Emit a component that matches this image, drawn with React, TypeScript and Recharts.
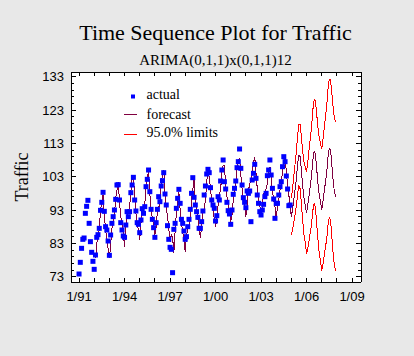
import { ComposedChart, Line, XAxis, YAxis, Legend } from 'recharts'

// monthly traffic, Jan 1991 – Dec 2004
const actual = [
  73.8, 77.3, 81.5, 84.2, 84.6, 92.0, 94.1, 95.9, 89.0, 83.5, 80.3, 77.6,
  75.2, 79.5, 84.8, 85.6, 87.5, 92.9, 95.3, 98.3, 92.6, 88.0, 87.0, 83.7,
  79.4, 85.5, 89.0, 91.0, 93.0, 96.2, 100.5, 100.6, 96.0, 89.2, 87.0, 85.2,
  84.8, 88.5, 92.5, 91.0, 92.5, 98.2, 100.5, 102.8, 96.0, 92.7, 89.2, 88.7,
  86.2, 90.0, 93.4, 92.0, 94.0, 100.0, 102.2, 105.0, 98.5, 93.2, 90.2, 87.7,
  84.8, 89.2, 93.2, 97.0, 95.5, 100.2, 101.8, 104.2, 97.8, 94.5, 88.3, 84.2,
  81.8, 81.2, 74.2, 87.2, 89.0, 93.5, 96.5, 99.2, 95.0, 90.2, 89.0, 86.7,
  84.2, 85.0, 88.0, 90.2, 93.2, 98.0, 102.7, 96.8, 94.5, 92.5, 90.8, 87.5,
  87.5, 89.5, 92.7, 97.5, 100.2, 103.8, 105.2, 104.2, 99.7, 96.0, 94.5, 93.5,
  89.7, 91.3, 97.0, 96.0, 101.7, 105.0, 108.0, 101.5, 99.3, 95.3, 92.8, 91.8,
  88.7, 93.0, 97.7, 99.5, 101.7, 105.7, 107.5, 111.3, 105.5, 100.5, 96.7, 95.3,
  93.7, 98.7, 98.0, 98.7, 89.5, 102.0, 104.0, 106.7, 102.5, 97.5, 95.0, 92.5,
  91.5, 93.0, 94.7, 97.0, 98.0, 103.3, 105.0, 108.0, 103.5, 99.5, 96.3, 90.5,
  95.0, 95.0, 97.5, 100.0, 101.5, 106.0, 109.0, 107.5, 103.2, 99.3, 94.3, 94.5,
]

// one-step-ahead forecasts, Feb 1992 – Dec 2004
const fitted = [
  78.5, 82.5, 86.0, 87.0, 93.0, 95.5, 97.5, 92.0, 87.0, 84.5, 81.5,
  78.5, 82.5, 87.5, 89.5, 91.5, 96.5, 99.0, 101.5, 95.5, 91.0, 89.0, 86.0,
  82.0, 87.5, 91.0, 92.5, 94.0, 98.5, 102.5, 102.0, 98.5, 92.0, 88.5, 87.0,
  84.0, 89.0, 92.5, 93.0, 94.5, 100.0, 102.5, 104.5, 98.0, 93.5, 90.5, 88.5,
  85.5, 88.0, 92.5, 93.5, 95.5, 101.0, 103.5, 105.0, 98.5, 94.0, 91.0, 87.5,
  83.5, 85.5, 85.0, 80.0, 86.5, 92.0, 95.5, 98.5, 93.0, 89.0, 86.5, 84.0,
  80.5, 85.0, 87.5, 88.5, 91.0, 96.0, 99.0, 102.5, 96.0, 92.5, 90.5, 88.0,
  84.5, 88.0, 92.0, 93.5, 96.0, 101.5, 104.5, 103.0, 99.5, 95.5, 93.0, 90.5,
  88.0, 90.5, 94.5, 97.5, 99.0, 104.0, 106.5, 106.5, 100.5, 97.0, 94.5, 92.5,
  89.5, 91.5, 96.0, 98.5, 101.0, 105.0, 108.0, 108.5, 103.5, 99.5, 96.5, 94.5,
  91.0, 94.5, 99.0, 100.5, 102.5, 104.5, 107.0, 109.0, 104.0, 99.5, 96.5, 94.5,
  91.0, 94.5, 98.0, 98.0, 99.5, 101.0, 104.5, 106.0, 103.0, 99.0, 96.0, 94.0,
  90.5, 94.0, 96.0, 99.0, 101.0, 104.5, 107.5, 109.5, 104.5, 100.5, 97.5, 94.0,
]

// forecasts Jan 2005 – Dec 2007 with 95% limits
const forecast = [
  91.0, 93.5, 96.5, 99.5, 102.5, 107.0, 109.5, 109.0, 104.5, 100.0, 96.5, 94.5,
  92.0, 94.5, 97.5, 100.5, 103.5, 108.0, 110.5, 110.0, 105.5, 101.0, 97.5, 95.5,
  93.0, 95.5, 98.5, 101.5, 104.5, 109.0, 111.5, 111.0, 106.5, 102.0, 98.5, 97.0,
]
const upper = [
  96.5, 99.8, 103.5, 107.1, 110.7, 115.7, 118.7, 118.7, 114.6, 110.5, 107.4, 105.8,
  104.3, 107.5, 111.1, 114.6, 118.1, 123.1, 126.1, 126.0, 121.9, 117.8, 114.7, 113.1,
  111.3, 114.3, 117.7, 121.1, 124.5, 129.4, 132.3, 132.1, 128.0, 123.8, 120.6, 119.4,
]
const lower = [
  85.5, 87.2, 89.5, 91.9, 94.3, 98.3, 100.3, 99.3, 94.4, 89.5, 85.6, 83.2,
  79.7, 81.5, 83.9, 86.4, 88.9, 92.9, 94.9, 94.0, 89.1, 84.2, 80.3, 77.9,
  74.7, 76.7, 79.3, 81.9, 84.5, 88.6, 90.7, 89.9, 85.0, 80.2, 76.4, 74.6,
]

const xTicks = [1991, 1992, 1993, 1994, 1995, 1996, 1997, 1998, 1999, 2000, 2001, 2002, 2003, 2004, 2005, 2006, 2007, 2008, 2009]
const xLabelYears = [1991, 1994, 1997, 2000, 2003, 2006, 2009]
const xLabels = ['1/91', '1/94', '1/97', '1/00', '1/03', '1/06', '1/09']
const yTicks = [73, 75, 77, 79, 81, 83, 85, 87, 89, 91, 93, 95, 97, 99, 101, 103, 105, 107, 109, 111, 113, 115, 117, 119, 121, 123, 125, 127, 129, 131, 133]
const yMajor = [73, 83, 93, 103, 113, 123, 133]

const FIT_START = 13
const nActual = actual.length
const data = Array.from({ length: nActual + forecast.length }, (_, i) => ({
  t: 1991 + i / 12,
  actual: i < nActual ? actual[i] : null,
  fit: i < FIT_START ? null : i < nActual ? fitted[i - FIT_START] : forecast[i - nActual],
  upper: i < nActual ? null : upper[i - nActual],
  lower: i < nActual ? null : lower[i - nActual],
}))

const BLUE = '#0000ff'
const MAROON = '#800040'
const RED = '#ff0000'
const SANS = '"Liberation Sans", Arial, sans-serif'
const SERIF = '"Liberation Serif", "Times New Roman", serif'

function SquareDot(p: any) {
  if (p.cy == null || p.value == null) return <g key={p.key} />
  return <rect key={p.key} x={p.cx - 2.5} y={p.cy - 2.5} width={5} height={5} fill={BLUE} />
}

function LeftTick({ x, y, payload }: any) {
  const major = yMajor.includes(payload.value)
  return (
    <g>
      <line x1={x} x2={x + (major ? 5 : 3)} y1={y} y2={y} stroke="#000" shapeRendering="crispEdges" />
      {major && (
        <text x={x - 7} y={y + 4.5} textAnchor="end" fontSize={13} fontFamily={SANS} fill="#000">
          {payload.value}
        </text>
      )}
    </g>
  )
}

function RightTick({ x, y, payload }: any) {
  const major = yMajor.includes(payload.value)
  return <line x1={x} x2={x - (major ? 5 : 3)} y1={y} y2={y} stroke="#000" shapeRendering="crispEdges" />
}

function BottomTick({ x, y, payload }: any) {
  const idx = xLabelYears.indexOf(payload.value)
  return (
    <g>
      <line x1={x} x2={x} y1={y} y2={y - 4} stroke="#000" shapeRendering="crispEdges" />
      {idx >= 0 && (
        <text x={x} y={y + 18.5} textAnchor="middle" fontSize={13} fontFamily={SANS} fill="#000">
          {xLabels[idx]}
        </text>
      )}
    </g>
  )
}

function TopTick({ x, y }: any) {
  return <line x1={x} x2={x} y1={y} y2={y + 4} stroke="#000" shapeRendering="crispEdges" />
}

function LegendBox() {
  return (
    <svg width={110} height={56} style={{ display: 'block' }}>
      <rect x={11} y={8.5} width={4} height={4} fill={BLUE} />
      <text x={26.5} y={13} fontSize={14} fontFamily={SERIF}>actual</text>
      <line x1={4} x2={17} y1={28.5} y2={28.5} stroke={MAROON} shapeRendering="crispEdges" />
      <text x={26.5} y={33} fontSize={14} fontFamily={SERIF}>forecast</text>
      <line x1={4} x2={17} y1={48.5} y2={48.5} stroke={RED} shapeRendering="crispEdges" />
      <text x={26.5} y={50.5} fontSize={14} fontFamily={SERIF}>95.0% limits</text>
    </svg>
  )
}

const axisLine = { stroke: '#000', shapeRendering: 'crispEdges' }

export default function App() {
  return (
    <div style={{ position: 'absolute', left: 0, top: 0, width: 414, height: 356, background: '#e8e8e8' }}>
      <ComposedChart width={414} height={356} data={data} margin={{ top: 71, right: 52, bottom: 44, left: 0 }}>
        <rect x={71} y={72} width={290} height={210} fill="#fff" />
        <text x={215.5} y={40} textAnchor="middle" fontSize={22} fontFamily={SERIF} fill="#000">
          Time Sequence Plot for Traffic
        </text>
        <text x={215.5} y={65} textAnchor="middle" fontSize={15} fontFamily={SERIF} fill="#000">
          ARIMA(0,1,1)x(0,1,1)12
        </text>
        <text x={28} y={177} transform="rotate(-90 28 177)" textAnchor="middle" fontSize={18} fontFamily={SERIF} fill="#000">
          Traffic
        </text>
        <XAxis xAxisId="b" dataKey="t" type="number" domain={[1990.47, 2009.59]} allowDataOverflow
          ticks={xTicks} interval={0} height={30} tickSize={0} tickMargin={0} tickLine={false}
          axisLine={axisLine} tick={<BottomTick />} />
        <XAxis xAxisId="t" orientation="top" dataKey="t" type="number" domain={[1990.47, 2009.59]} allowDataOverflow
          ticks={xTicks} interval={0} height={1} tickSize={0} tickMargin={0} tickLine={false}
          axisLine={axisLine} tick={<TopTick />} />
        <YAxis yAxisId="l" type="number" domain={[71.4, 134.4]} allowDataOverflow ticks={yTicks} interval={0}
          width={71} tickSize={0} tickMargin={0} tickLine={false} axisLine={axisLine} tick={<LeftTick />} />
        <YAxis yAxisId="r" orientation="right" type="number" domain={[71.4, 134.4]} allowDataOverflow ticks={yTicks}
          interval={0} width={1} tickSize={0} tickMargin={0} tickLine={false} axisLine={axisLine} tick={<RightTick />} />
        <Legend layout="vertical" align="center" verticalAlign="middle"
          wrapperStyle={{ left: 120, top: 86, width: 110, height: 56 }} content={() => <LegendBox />} />
        <Line xAxisId="b" yAxisId="l" dataKey="actual" stroke="none" dot={SquareDot} activeDot={false}
          isAnimationActive={false} />
        <Line xAxisId="b" yAxisId="l" dataKey="upper" stroke={RED} strokeWidth={1} dot={false} activeDot={false}
          shapeRendering="crispEdges" isAnimationActive={false} />
        <Line xAxisId="b" yAxisId="l" dataKey="lower" stroke={RED} strokeWidth={1} dot={false} activeDot={false}
          shapeRendering="crispEdges" isAnimationActive={false} />
        <Line xAxisId="b" yAxisId="l" dataKey="fit" stroke={MAROON} strokeWidth={1} dot={false} activeDot={false}
          shapeRendering="crispEdges" isAnimationActive={false} />
      </ComposedChart>
    </div>
  )
}
